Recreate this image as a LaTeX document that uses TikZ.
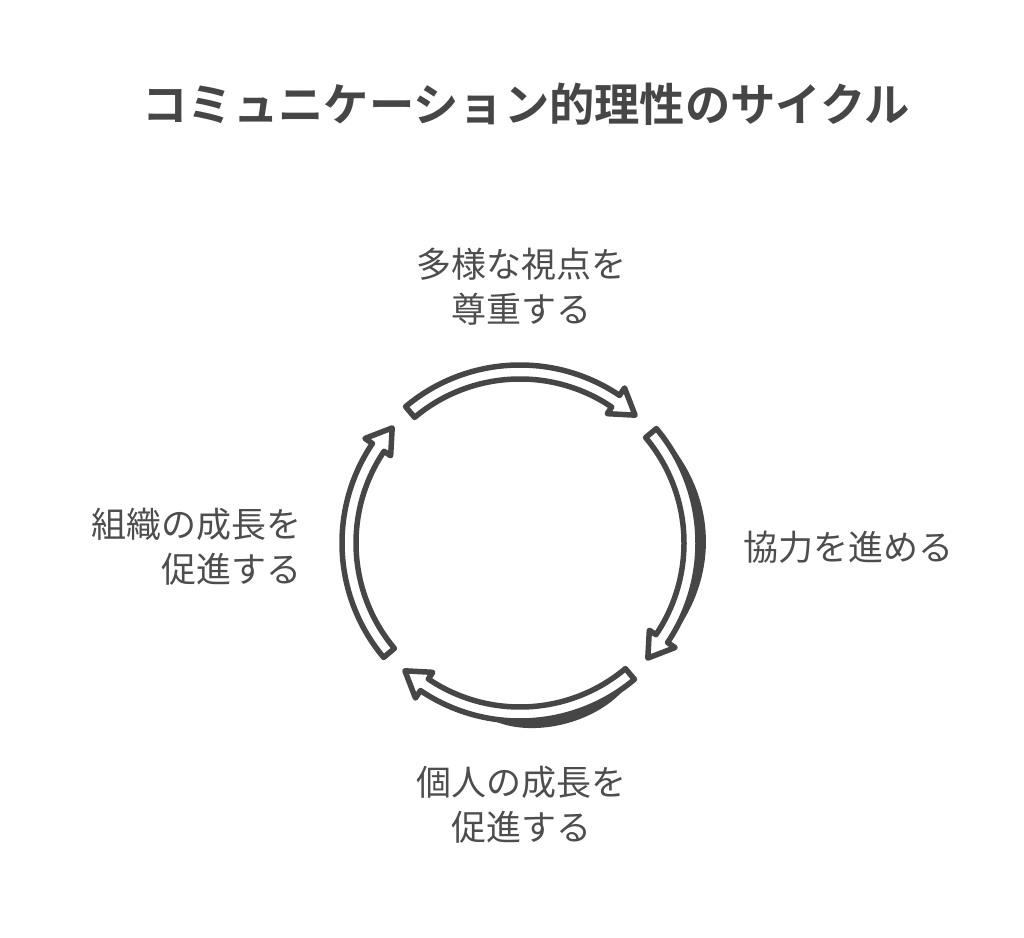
\documentclass[tikz,border=0pt]{standalone}
\usepackage{fontspec}
\setmainfont{Noto Sans CJK JP}[BoldFont={Noto Sans CJK JP Bold}]
\newfontfamily\jpbold{Noto Sans CJK JP Bold}
\definecolor{ink}{HTML}{464646}
\definecolor{txt}{HTML}{4D4D4D}
\tikzset{
  cyclearrow/.style={draw=ink, line width=5.5pt, line join=round, fill=white},
  shade/.style={fill=ink, draw=none},
  lbl/.style={text=txt, inner sep=0pt, font=\fontsize{35}{45}\selectfont},
  ttl/.style={text=ink, inner sep=0pt, font=\jpbold\fontsize{45.3}{50}\selectfont}
}
\newcommand{\cyclearc}[2]{% #1 start (tail) angle, #2 tip angle
  \pgfmathsetmacro{\hb}{#2+8}
  \draw[cyclearrow] (#1:178) arc[start angle=#1, end angle=\hb, radius=178]
    -- (\hb:187) -- (#2:172) -- (\hb:156) -- (\hb:164)
    arc[start angle=\hb, end angle=#1, radius=164] -- cycle;
}
\begin{document}
\begin{tikzpicture}[x=1pt,y=1pt]
\path[use as bounding box] (0,0) rectangle (1024,937);
\node[ttl] (title) at (526,833) {コミュニケーション的理性のサイクル};
\begin{scope}[shift={(520,394)}]
  \coordinate (c) at (0,0);
  \cyclearc{130}{48}
  \cyclearc{40}{-42}
  \cyclearc{-50}{-132}
  \cyclearc{-140}{-222}
  % hand-drawn thickening
  \fill[shade] (32:180) arc[start angle=32, end angle=-28, radius=180]
     .. controls (-8:199) and (12:199) .. (32:180);
  \fill[shade] (-55:180) arc[start angle=-55, end angle=-98, radius=180]
     .. controls (-86:195) and (-68:195) .. (-55:180);
\end{scope}
\node[lbl, align=center] (n1) at (521,650) {多様な視点を\\尊重する};
\node[lbl, anchor=west] (n2) at (743,390) {協力を進める};
\node[lbl, align=center] (n3) at (521,132) {個人の成長を\\促進する};
\node[lbl, align=right, anchor=east] (n4) at (302,390) {組織の成長を\\促進する};
\end{tikzpicture}
\end{document}
